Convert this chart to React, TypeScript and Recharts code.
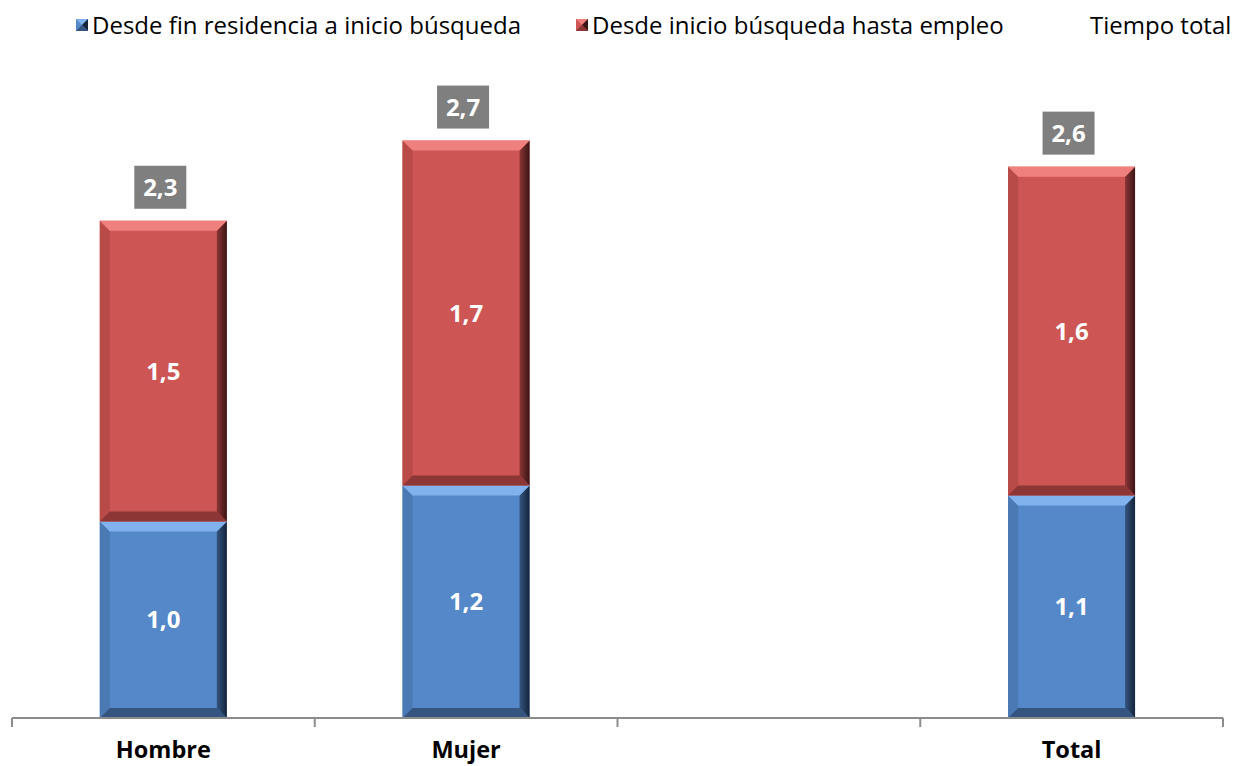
import React from 'react';
import { BarChart, Bar, XAxis, YAxis, LabelList } from 'recharts';

const categories = ['Hombre', 'Mujer', '', 'Total'];
// años desde fin de residencia a inicio de búsqueda
const inicioBusqueda = [0.98, 1.16, null, 1.11];
// años desde inicio de búsqueda hasta empleo
const hastaEmpleo = [1.5, 1.72, null, 1.64];
// tiempo total (etiqueta sobre la barra)
const tiempoTotal = [2.3, 2.7, null, 2.6];

const data = categories.map((name, i) => ({
  name,
  slot: i,
  inicio: inicioBusqueda[i],
  empleo: hastaEmpleo[i],
  total: tiempoTotal[i],
}));

const FONT = '"Open Sans", sans-serif';

const blue = { base: '#5588C9', light: '#82B2EE', left: '#4B79B4', dark: '#34557F', edge: '#14243A', id: 'gBlue' };
const red = { base: '#CD5553', light: '#F0807E', left: '#B84A48', dark: '#8C3635', edge: '#3A1515', id: 'gRed' };

const BevelBar = (props: any) => {
  const { x, y, width, height, pal } = props;
  if (!height || height <= 0) return null;
  const b = Math.min(10, height / 2);
  const r = x + width;
  const btm = y + height;
  return (
    <g>
      <defs>
        <linearGradient id={pal.id} x1='0' y1='0' x2='1' y2='0'>
          <stop offset='0%' stopColor={pal.dark} />
          <stop offset='100%' stopColor={pal.edge} />
        </linearGradient>
      </defs>
      <rect x={x} y={y} width={width} height={height} fill={pal.base} />
      <polygon points={`${x},${y} ${x + b},${y + b} ${x + b},${btm - b} ${x},${btm}`} fill={pal.left} />
      <polygon points={`${r},${y} ${r - b},${y + b} ${r - b},${btm - b} ${r},${btm}`} fill={`url(#${pal.id})`} />
      <polygon points={`${x},${btm} ${x + b},${btm - b} ${r - b},${btm - b} ${r},${btm}`} fill={pal.dark} />
      <polygon points={`${x},${y} ${r},${y} ${r - b},${y + b} ${x + b},${y + b}`} fill={pal.light} />
    </g>
  );
};

const fmt = (v: any) => (v == null ? '' : Number(v).toFixed(1).replace('.', ','));

const TotalBox = (props: any) => {
  const { x, y, width, value } = props;
  if (value == null) return null;
  const cx = x + width / 2 - 3;
  const cy = y - 34;
  return (
    <g>
      <rect x={cx - 26} y={cy - 21} width={52} height={43} fill='#7F7F7F' />
      <text x={cx} y={cy} textAnchor='middle' dominantBaseline='central' fill='#fff'
        fontFamily={FONT} fontWeight={700} fontSize={24}>
        {fmt(value)}
      </text>
    </g>
  );
};

const LegendIcon = ({ pal }: { pal: typeof blue }) => (
  <svg width={12} height={12} style={{ marginRight: 4 }}>
    <rect x={0} y={0} width={12} height={12} fill={pal.base} />
    <polygon points='0,0 12,0 6,6' fill={pal.light} />
    <polygon points='12,0 12,12 6,6' fill={pal.edge} />
    <polygon points='0,12 12,12 6,6' fill={pal.dark} />
  </svg>
);

const labelStyle = { fill: '#fff', fontFamily: FONT, fontWeight: 700, fontSize: 24 };

export default function App() {
  const legendItem: React.CSSProperties = { position: 'absolute', top: 8, display: 'flex', alignItems: 'center', fontFamily: FONT, fontSize: 24, color: '#000', whiteSpace: 'nowrap' };
  return (
    <div style={{ position: 'absolute', left: 0, top: 0, width: 1235, height: 766, background: '#fff' }}>
      <div style={{ ...legendItem, left: 76 }}><LegendIcon pal={blue} />Desde fin residencia a inicio búsqueda</div>
      <div style={{ ...legendItem, left: 576 }}><LegendIcon pal={red} />Desde inicio búsqueda hasta empleo</div>
      <div style={{ ...legendItem, left: 1090 }}>Tiempo total</div>
      <BarChart width={1235} height={766} data={data} barCategoryGap='29%'
        margin={{ top: 116.5, right: 12, bottom: 0, left: 12 }}>
        <XAxis xAxisId='a' type='number' dataKey='slot' domain={[0, 4]} ticks={[0, 1, 2, 3, 4]}
          height={1} tick={() => <g />} tickLine={{ stroke: '#8C8C8C', strokeWidth: 2 }} tickSize={9}
          stroke='#8C8C8C' strokeWidth={2} />
        <XAxis xAxisId='b' dataKey='name' height={47} axisLine={false} tickLine={false}
          tick={{ fill: '#000', fontFamily: FONT, fontWeight: 700, fontSize: 23.5 }} dy={14} />
        <YAxis hide domain={[0, 3]} />
        <Bar xAxisId='b' dataKey='inicio' stackId='a' isAnimationActive={false}
          shape={(p: any) => <BevelBar {...p} pal={blue} />}>
          <LabelList dataKey='inicio' position='center' formatter={fmt} style={labelStyle} />
        </Bar>
        <Bar xAxisId='b' dataKey='empleo' stackId='a' isAnimationActive={false}
          shape={(p: any) => <BevelBar {...p} pal={red} />}>
          <LabelList dataKey='empleo' position='center' formatter={fmt} style={labelStyle} />
          <LabelList dataKey='total' content={TotalBox} />
        </Bar>
      </BarChart>
    </div>
  );
}
